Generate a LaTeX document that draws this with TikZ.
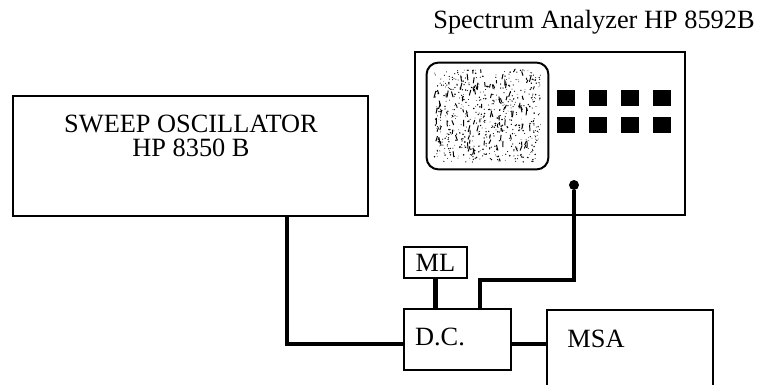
\documentclass[tikz,border=0pt]{standalone}
\usepackage{fontspec}
\setmainfont{Liberation Serif}
\usetikzlibrary{positioning}

\tikzset{
	unit/.style={draw, line width=0.7pt, inner sep=0pt},
	lbl/.style={inner sep=0pt, font=\fontsize{12}{11}\selectfont, align=center},
	cable/.style={line width=1.9pt},
	knob/.style={fill, inner sep=0pt, minimum width=0.29cm, minimum height=0.26cm}
}

\begin{document}
	\begin{tikzpicture}[x=0.016cm, y=-0.016cm]
		\useasboundingbox (0,0) rectangle (761,384);
		\clip (0,0) rectangle (761,384);

		% instruments
		\node[unit, minimum width=5.68cm, minimum height=1.92cm] (osc) at (190.5,156) {};
		\node[lbl] (osctext) at (191,136) {SWEEP OSCILLATOR\\HP 8350 B};

		\node[unit, minimum width=4.32cm, minimum height=2.61cm] (sa) at (550,133.5) {};
		\node[lbl] (satitle) at (594,22) {Spectrum Analyzer HP 8592B};

		\node[unit, minimum width=1.71cm, minimum height=0.98cm] (dc) at (457.5,339.5) {};
		\node[lbl] (dctext) at (440,337) {D.C.};

		\node[unit, minimum width=1.01cm, minimum height=0.50cm] (ml) at (435.5,262.5) {};
		\node[lbl] (mltext) at (435.5,263) {ML};

		\node[unit, minimum width=2.66cm, minimum height=1.76cm] (msa) at (630,365) {};
		\node[lbl] (msatext) at (596,339) {MSA};

		% analyzer front panel, noisy screen
		\node[draw, line width=0.9pt, rounded corners=0.19cm, minimum width=1.95cm, minimum height=1.71cm] (screen) at (487.5,116) {};
		\pgfmathsetseed{8592}
		\foreach \i in {1,...,550}
			\fill ({487.5+53*(2*rnd-1)},{116+46*(2*rnd-1)}) circle ({0.15pt+0.25pt*rnd});
		\foreach \i in {1,...,100}
			\draw[line width=0.45pt] ({487.5+52*(2*rnd-1)},{110+42*(2*rnd-1)}) -- ++({2*(2*rnd-1)},{3+4*rnd});
		\foreach \col [count=\c] in {566,598,630,662} {
			\node[knob] (btna\c) at (\col,98) {};
			\node[knob] (btnb\c) at (\col,125) {};
		}
		\node[circle, fill, inner sep=0pt, minimum size=0.16cm] (port) at (574,185) {};

		% cables
		\coordinate (osclow) at (287,344);
		\draw[cable] (osc.south -| osclow) -- (osclow) -- (dc.west |- osclow);
		\draw[cable] (port) -- (574,280) -| (480,309);
		\draw[cable] (ml.south) -- (ml.south |- dc.north);
		\draw[cable] (dc.east |- osclow) -- (msa.west |- osclow);
	\end{tikzpicture}
\end{document}
